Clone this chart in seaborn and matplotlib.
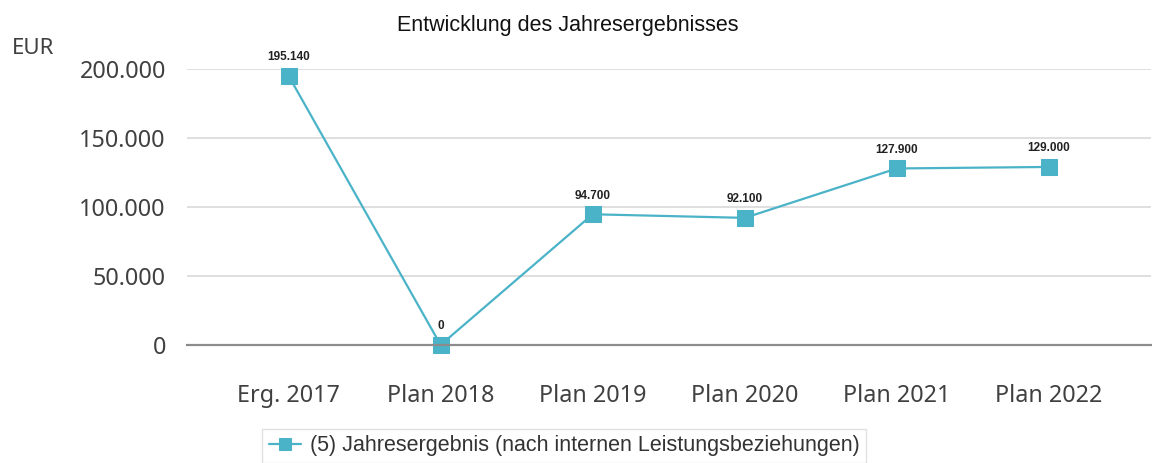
import pandas as pd
import matplotlib.pyplot as plt
import seaborn as sns

#Chart data
categories = ['Erg. 2017', 'Plan 2018', 'Plan 2019', 'Plan 2020', 'Plan 2021', 'Plan 2022']
values = [195140, 0, 94700, 92100, 127900, 129000]
value_labels = ['195.140', '0', '94.700', '92.100', '127.900', '129.000']
y_ticks = [0, 50000, 100000, 150000, 200000]
y_tick_labels = ['0', '50.000', '100.000', '150.000', '200.000']
series_name = '(5) Jahresergebnis (nach internen Leistungsbeziehungen)'

df = pd.DataFrame({'cat': categories, 'val': values})
df['pos'] = range(len(df))

sns.set_style('white')
plt.rcParams['font.family'] = ['Liberation Sans', 'DejaVu Sans']
line_color = '#4bb3c8'

fig = plt.figure(figsize=(11.52, 4.63), dpi=100)
ax = fig.add_axes([0.162, 0.255, 0.837, 0.596])

#Line with square markers
sns.lineplot(data=df, x='pos', y='val', ax=ax, color=line_color,
             marker='s', markersize=11, markeredgecolor=line_color,
             linewidth=1.6, label=series_name, legend=False, clip_on=False)

#Value labels above points
for p, v, lab in zip(df['pos'], df['val'], value_labels):
    ax.annotate(lab, (p, v), xytext=(0, 9), textcoords='offset points',
                ha='center', va='bottom', fontsize=8.5, fontweight='semibold',
                color='#222222')

ax.set_xlim(-0.67, 5.67)
ax.set_ylim(0, 200000)
ax.set_xticks(df['pos'])
ax.set_xticklabels(categories, family='Noto Sans', fontsize=16.8, color='#404040')
ax.set_yticks(y_ticks)
ax.set_yticklabels(y_tick_labels, family='Noto Sans', fontsize=16.8, color='#404040')
ax.tick_params(axis='x', length=0, pad=28)
ax.tick_params(axis='y', length=0, pad=15)
ax.set_xlabel(None)
ax.set_ylabel(None)

#Grid and axis lines
ax.grid(axis='y', color='#d9d9d9', linewidth=1.2)
ax.set_axisbelow(True)
for s in ['top', 'right', 'left']:
    ax.spines[s].set_visible(False)
ax.spines['bottom'].set_color('#8c8c8c')
ax.spines['bottom'].set_linewidth(1.6)

#Title and unit
fig.text(0.493, 0.945, 'Entwicklung des Jahresergebnisses', ha='center', va='center',
         fontsize=15.5, color='#111111')
fig.text(0.010, 0.895, 'EUR', ha='left', va='center', family='Noto Sans',
         fontsize=16, color='#404040')

#Legend
handles, labels = ax.get_legend_handles_labels()
leg = fig.legend(handles, labels, loc='upper center', bbox_to_anchor=(0.4896, 0.097),
                 frameon=True, fancybox=False, edgecolor='#d9d9d9', fontsize=15.5,
                 handlelength=1.5, handletextpad=0.4, borderpad=0.3, markerscale=0.8)
for t in leg.get_texts():
    t.set_color('#333333')

fig.savefig('out.png', dpi=100)
